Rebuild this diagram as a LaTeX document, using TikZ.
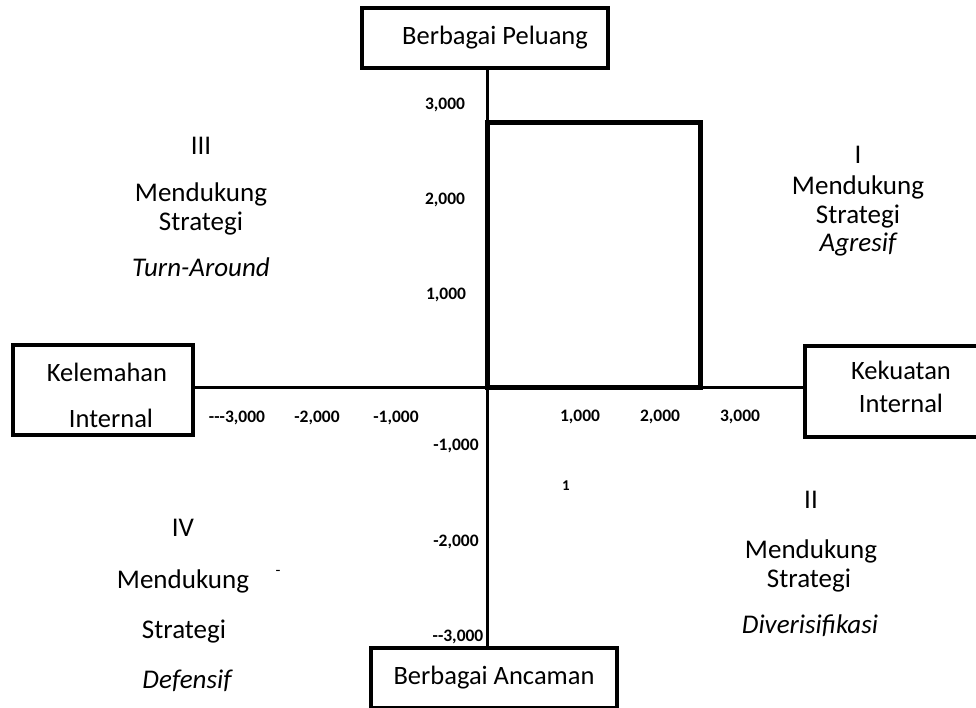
\documentclass[tikz,border=0pt]{standalone}
\usepackage{fontspec}
\setmainfont{Carlito}
\usetikzlibrary{positioning}
\definecolor{ink}{HTML}{000000}
\definecolor{bg}{HTML}{FFFFFF}
\tikzset{
  box/.style={draw=ink, line width=4pt, inner sep=0pt, align=center, font=\fontsize{26.5}{33}\selectfont},
  boxlab/.style={text=ink, inner sep=0pt, align=center, font=\fontsize{26.5}{33}\selectfont},
  axis/.style={draw=ink, line width=3pt},
  quad/.style={draw=ink, line width=5pt},
  lab/.style={text=ink, font=\fontsize{27}{33}\selectfont, inner sep=0pt, text height=17.4pt, text depth=0pt},
  labi/.style={lab, font=\fontsize{27}{33}\selectfont\itshape},
  num/.style={text=ink, font=\fontsize{17.5}{21}\selectfont\bfseries, inner sep=0pt, text height=11pt, text depth=0pt}
}

\begin{document}
\begin{tikzpicture}[x=1pt, y=-1pt]
  \useasboundingbox[fill=bg] (0,0) rectangle (976,707);
  \coordinate (O) at (487,387);

  % the four boxes
  \node[box, minimum width=246pt, minimum height=60pt] (peluang) at (485,38) {\hspace*{20pt}Berbagai Peluang};
  \node[box, minimum width=246pt, minimum height=60pt] (ancaman) at (494,678) {Berbagai Ancaman};
  \node[box, minimum width=180pt, minimum height=90pt] (lemah) at (103,390) {};
  \node[boxlab] (lemahtxt) at (107,395) {Kelemahan\\[13pt]\hspace*{8pt}Internal};
  \node[box, minimum width=192pt, minimum height=91pt] (kuat) at (901,391) {};
  \node[boxlab] (kuattxt) at (901,387) {Kekuatan\\Internal};

  % axes
  \draw[axis] (lemah.east |- O) -- (O -| kuat.west);
  \draw[axis] (peluang.south -| O) -- (O |- ancaman.north);
  \draw[quad] (O) rectangle (700,122);

  % scale
  \node[num] (y3) at (445,104) {3,000};
  \node[num] (y2) at (445,199) {2,000};
  \node[num] (y1) at (446,294) {1,000};
  \node[num] (ym1) at (456,445) {-1,000};
  \node[num] (ym2) at (456,541) {-2,000};
  \node[num] (ym3) at (458,636) {-{}-3,000};
  \node[num] (xm3) at (237,417) {-{}-{}-3,000};
  \node[num] (xm2) at (317,417) {-2,000};
  \node[num] (xm1) at (396,417) {-1,000};
  \node[num] (x1) at (580,416) {1,000};
  \node[num] (x2) at (660,416) {2,000};
  \node[num] (x3) at (740,416) {3,000};
  \node[num, font=\fontsize{15}{18}\selectfont\bfseries] (one) at (566,485) {1};
  \node[lab, font=\fontsize{16}{18}\selectfont] (dash) at (278,567) {-};

  % quadrant I
  \node[lab] (q1a) at (858,155) {I};
  \node[lab] (q1b) at (858,186) {Mendukung};
  \node[lab] (q1c) at (858,215) {Strategi};
  \node[labi] (q1d) at (858,243) {Agresif};
  % quadrant II
  \node[lab] (q2a) at (811,500) {II};
  \node[lab] (q2b) at (811,550) {Mendukung};
  \node[lab] (q2c) at (809,579) {Strategi};
  \node[labi] (q2d) at (810,625) {Diverisifikasi};
  % quadrant III
  \node[lab] (q3a) at (201,146) {III};
  \node[lab] (q3b) at (201,193) {Mendukung};
  \node[lab] (q3c) at (201,222) {Strategi};
  \node[labi] (q3d) at (201,268) {Turn-Around};
  % quadrant IV
  \node[lab] (q4a) at (183,528) {IV};
  \node[lab] (q4b) at (183,580) {Mendukung};
  \node[lab] (q4c) at (184,630) {Strategi};
  \node[labi] (q4d) at (187,680) {Defensif};
\end{tikzpicture}
\end{document}
